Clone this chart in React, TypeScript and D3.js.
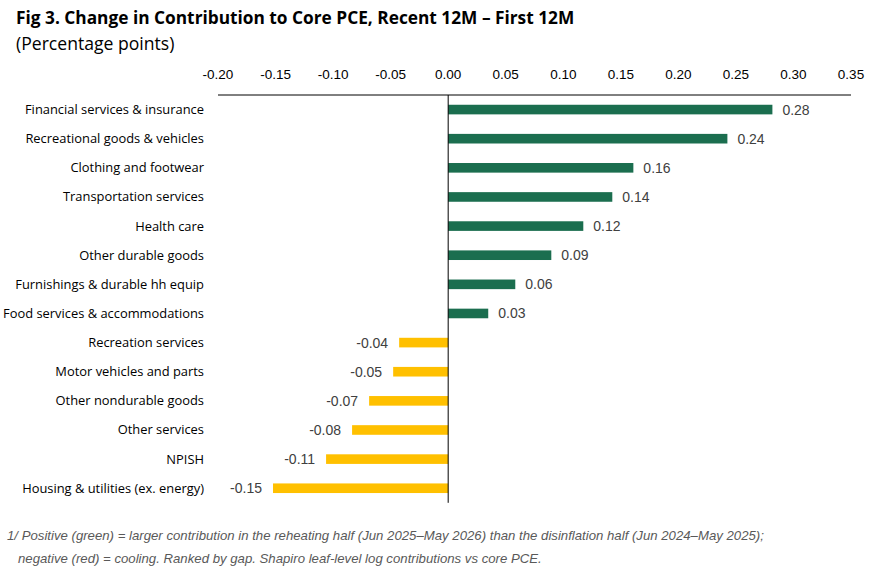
import React from "react";
import * as d3 from "d3";

const categories = [
  "Financial services & insurance",
  "Recreational goods & vehicles",
  "Clothing and footwear",
  "Transportation services",
  "Health care",
  "Other durable goods",
  "Furnishings & durable hh equip",
  "Food services & accommodations",
  "Recreation services",
  "Motor vehicles and parts",
  "Other nondurable goods",
  "Other services",
  "NPISH",
  "Housing & utilities (ex. energy)",
];
const values = [0.2817, 0.2426, 0.1609, 0.1426, 0.1174, 0.0896, 0.0583, 0.0348, -0.0426, -0.0478, -0.0687, -0.0835, -0.1061, -0.1522];
const ticks = [-0.2, -0.15, -0.1, -0.05, 0, 0.05, 0.1, 0.15, 0.2, 0.25, 0.3, 0.35];

const title = "Fig 3. Change in Contribution to Core PCE, Recent 12M \u2013 First 12M";
const subtitle = "(Percentage points)";
const note1 = "1/ Positive (green) = larger contribution in the reheating half (Jun 2025\u2013May 2026) than the disinflation half (Jun 2024\u2013May 2025);";
const note2 = "negative (red) = cooling. Ranked by gap. Shapiro leaf-level log contributions vs core PCE.";

const W = 878;
const H = 581;
const GREEN = "#1B6E4F";
const YELLOW = "#FFC000";
const narrow = "'Liberation Sans Narrow', 'Arial Narrow', sans-serif";
const sans = "'Open Sans', 'Noto Sans', sans-serif";

const fmt2 = d3.format(".2f");
const fmt = (v: number) => fmt2(v).replace("\u2212", "-");

export default function App() {
  const x = d3.scaleLinear().domain([-0.2, 0.35]).range([218, 851]);
  const y = d3.scaleBand<string>().domain(categories).range([95, 502.8]).paddingInner(0.67).paddingOuter(0.335);
  const bh = y.bandwidth();
  return (
    <svg width={W} height={H} style={{ position: "absolute", left: 0, top: 0, background: "#fff" }}>
      <text x={16} y={24} fontFamily={sans} fontWeight={700} fontSize={17.3} fill="#000">{title}</text>
      <text x={16} y={50} fontFamily={sans} fontSize={17.6} fill="#000">{subtitle}</text>
      {ticks.map((t) => (
        <text key={t} x={x(t)} y={79} textAnchor="middle" fontFamily={narrow} fontSize={13.5} fill="#000">
          {fmt(t)}
        </text>
      ))}
      <line x1={x(-0.2)} x2={x(0.35)} y1={95} y2={95} stroke="#000" strokeWidth={1} />
      {categories.map((c, i) => {
        const v = values[i];
        const yc = (y(c) as number) + bh / 2;
        const x0 = x(Math.min(0, v));
        const x1 = x(Math.max(0, v));
        return (
          <g key={c}>
            <text x={204} y={yc + 4.5} textAnchor="end" fontFamily={sans} fontSize={12.9} fill="#000">{c}</text>
            <rect x={x0} y={y(c)} width={x1 - x0} height={bh} fill={v >= 0 ? GREEN : YELLOW} />
            <text
              x={v >= 0 ? x(v) + 10 : x(v) - 11}
              y={yc + 5}
              textAnchor={v >= 0 ? "start" : "end"}
              fontFamily={narrow}
              fontSize={14}
              fill="#404040"
            >
              {fmt(v)}
            </text>
          </g>
        );
      })}
      <line x1={x(0)} x2={x(0)} y1={95} y2={502.8} stroke="#000" strokeWidth={1} />
      <text x={7} y={540} fontFamily={narrow} fontStyle="italic" fontSize={13.2} fill="#595959">{note1}</text>
      <text x={18} y={563} fontFamily={narrow} fontStyle="italic" fontSize={13.2} fill="#595959">{note2}</text>
    </svg>
  );
}
